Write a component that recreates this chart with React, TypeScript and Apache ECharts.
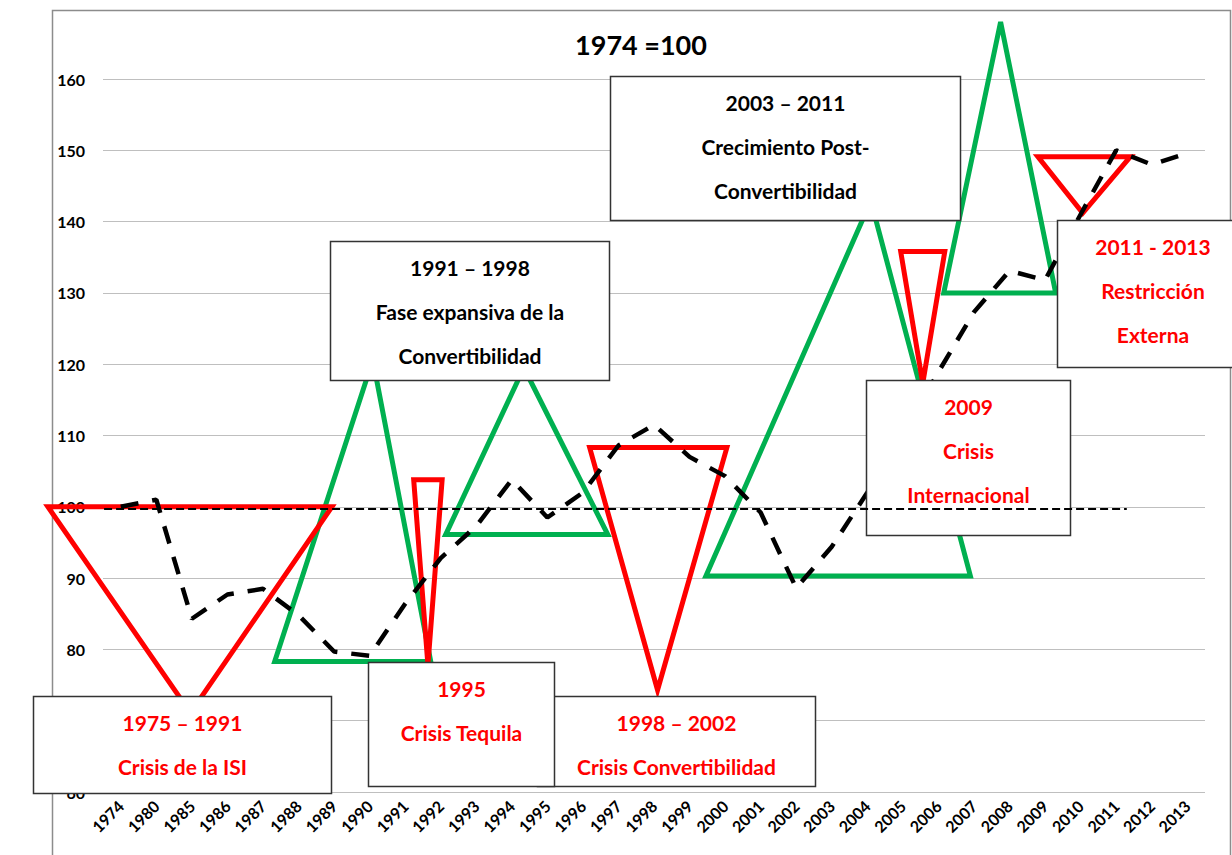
import React, { useEffect, useRef } from "react";
import * as echarts from "echarts";

// ---- data ----
const years = [
  "1974", "1980", "1985", "1986", "1987", "1988", "1989", "1990", "1991", "1992",
  "1993", "1994", "1995", "1996", "1997", "1998", "1999", "2000", "2001", "2002",
  "2003", "2004", "2005", "2006", "2007", "2008", "2009", "2010", "2011", "2012", "2013",
];
const indexValues = [
  100, 101, 84.3, 87.7, 88.5, 84.8, 79.7, 79.1, 86.4, 92.8,
  97.3, 103.8, 98.5, 102, 108.6, 111.5, 107, 104.3, 99.2, 88.6,
  94.4, 102, 110, 118.9, 127.3, 133.1, 131.8, 141, 150, 148, 149.6,
];
const yTicks = [60, 70, 80, 90, 100, 110, 120, 130, 140, 150, 160];

// Triangles (x in year-index units, y in index value): [x1,y1,x2,y2,x3,y3]
const crisisTriangles = [
  [-2.05, 100, 5.94, 100, 1.96, 71.1],
  [8.24, 103.8, 9.04, 103.8, 8.64, 77.8],
  [13.19, 108.3, 17.05, 108.3, 15.1, 74.3],
  [21.94, 135.8, 23.18, 135.8, 22.56, 117.3],
  [25.8, 149.1, 28.4, 149.1, 27.06, 141.2],
];
const growthTriangles = [
  [4.33, 78.3, 8.72, 78.3, 7.09, 120.6],
  [9.14, 96.1, 13.7, 96.1, 11.34, 119.5],
  [16.46, 90.3, 23.9, 90.3, 21.1, 142.9],
  [23.15, 130, 26.3, 130, 24.75, 168],
];

// Base-level reference line (1974 = 100)
const baseLevel = 99.7;
const baseLineFrom = -3.17;
const baseLineTo = 28.3;

// Period labels
const boxTexts = [
  ["1975 – 1991", "Crisis de la ISI"],
  ["1991 – 1998", "Fase expansiva de la", "Convertibilidad"],
  ["1998 – 2002", "Crisis Convertibilidad"],
  ["1995", "Crisis Tequila"],
  ["2003 – 2011", "Crecimiento Post-", "Convertibilidad"],
  ["2009", "Crisis", "Internacional"],
  ["2011 - 2013", "Restricción", "Externa"],
];
const boxIsCrisis = [true, false, true, true, false, true, true];
// box extents in axis units: [xLeft, yTop, xRight, yBottom]
const boxExtents = [
  [-2.48, 73.5, 5.91, 59.9],
  [5.88, 137.3, 13.73, 117.8],
  [11.7, 73.5, 19.52, 60.9],
  [6.96, 78.3, 12.18, 60.9],
  [13.76, 160.45, 23.6, 140.25],
  [20.96, 117.8, 26.7, 96.1],
  [26.33, 140.25, 31.7, 119.6],
];

const FONT = "Lato, 'Open Sans', sans-serif";
const RED = "#ff0000";
const GREEN = "#00b050";

function triangleSeries(data: number[][], color: string, z: number) {
  return {
    type: "custom",
    xAxisIndex: 1,
    yAxisIndex: 0,
    z,
    clip: false,
    silent: true,
    data,
    renderItem: (params: any, api: any) => {
      const pts = [0, 1, 2].map((k) =>
        api.coord([api.value(k * 2), api.value(k * 2 + 1)])
      );
      return {
        type: "polygon",
        shape: { points: pts },
        style: { fill: "none", stroke: color, lineWidth: 5, lineJoin: "miter" },
      };
    },
  };
}

export default function App() {
  const ref = useRef<HTMLDivElement>(null);
  useEffect(() => {
    if (!ref.current) return;
    const chart = echarts.init(ref.current, undefined, { renderer: "svg" });
    const option: any = {
      animation: false,
      backgroundColor: "#ffffff",
      grid: { left: 103, right: 27, top: 79, bottom: 63, containLabel: false },
      xAxis: [
        {
          type: "category",
          data: years,
          boundaryGap: true,
          axisLine: { show: false },
          axisTick: { show: false },
          axisLabel: {
            interval: 0,
            rotate: 45,
            margin: 11,
            color: "#000",
            fontFamily: FONT,
            fontWeight: "bold",
            fontSize: 16,
          },
        },
        { type: "value", min: -0.5, max: 30.5, show: false },
      ],
      yAxis: {
        type: "value",
        min: yTicks[0],
        max: yTicks[yTicks.length - 1],
        interval: 10,
        axisLine: { show: false },
        axisTick: { show: false },
        axisLabel: {
          margin: 18,
          color: "#000",
          fontFamily: FONT,
          fontWeight: "bold",
          fontSize: 16,
        },
        splitLine: { lineStyle: { color: "#bfbfbf", width: 1 } },
      },
      graphic: [
        {
          type: "rect",
          shape: { x: 52.5, y: 10.5, width: 1178, height: 900 },
          style: { fill: "none", stroke: "#8c8c8c", lineWidth: 1.5 },
          silent: true,
          z: 0,
        },
        {
          type: "text",
          x: 641,
          y: 44,
          style: {
            text: "1974 =100",
            align: "center",
            verticalAlign: "middle",
            fill: "#000",
            font: `bold 27px ${FONT}`,
          },
          z: 10,
        },
      ],
      series: [
        triangleSeries(growthTriangles, GREEN, 2),
        triangleSeries(crisisTriangles, RED, 3),
        {
          type: "line",
          xAxisIndex: 0,
          yAxisIndex: 0,
          z: 4,
          data: indexValues,
          symbol: "none",
          clip: false,
          lineStyle: { color: "#000", width: 4.5, type: [18, 14], cap: "butt" },
        },
        {
          type: "custom",
          xAxisIndex: 1,
          yAxisIndex: 0,
          z: 5,
          clip: false,
          silent: true,
          data: boxExtents,
          renderItem: (params: any, api: any) => {
            const i = params.dataIndex;
            const p0 = api.coord([api.value(0), api.value(1)]);
            const p1 = api.coord([api.value(2), api.value(3)]);
            const x = Math.round(p0[0]) + 0.5;
            const y = Math.round(p0[1]) + 0.5;
            const w = Math.round(p1[0] - p0[0]);
            const h = Math.round(p1[1] - p0[1]);
            return {
              type: "group",
              children: [
                {
                  type: "rect",
                  shape: { x, y, width: w, height: h },
                  style: { fill: "#fff", stroke: "#333", lineWidth: 1.5 },
                },
                {
                  type: "text",
                  style: {
                    text: boxTexts[i].join("\n"),
                    x: x + w / 2,
                    y: y + 4,
                    align: "center",
                    verticalAlign: "top",
                    lineHeight: 44,
                    fill: boxIsCrisis[i] ? RED : "#000",
                    font: `bold 21px ${FONT}`,
                  },
                },
              ],
            };
          },
        },
        {
          type: "line",
          xAxisIndex: 1,
          yAxisIndex: 0,
          z: 6,
          data: [
            [baseLineFrom, baseLevel],
            [baseLineTo, baseLevel],
          ],
          symbol: "none",
          clip: false,
          lineStyle: { color: "#000", width: 2, type: [8, 4] },
        },
      ],
    };
    chart.setOption(option);
    return () => chart.dispose();
  }, []);
  return (
    <div
      ref={ref}
      style={{ position: "fixed", left: 0, top: 0, width: 1232, height: 855, background: "#fff" }}
    />
  );
}
